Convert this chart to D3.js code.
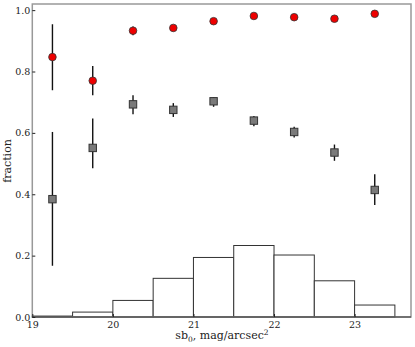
<!DOCTYPE html>
<html><head><meta charset="utf-8">
<script src="https://cdn.jsdelivr.net/npm/d3@7"></script>
<style>body{margin:0;background:#fff}svg{display:block}text{font-family:"DejaVu Serif",serif;fill:#222}</style>
</head><body><svg id="c" width="415" height="347"></svg>
<script>
const binCenters = [19.25,19.75,20.25,20.75,21.25,21.75,22.25,22.75,23.25];
const redVals  = [0.847,0.770,0.933,0.942,0.964,0.981,0.977,0.972,0.988];
const redLo    = [0.739,0.723,0.918,0.935,0.958,0.977,0.972,0.966,0.984];
const redHi    = [0.954,0.818,0.947,0.949,0.970,0.985,0.982,0.978,0.992];
const greyVals = [0.384,0.551,0.693,0.675,0.703,0.640,0.603,0.536,0.414];
const greyLo   = [0.167,0.485,0.661,0.652,0.685,0.622,0.585,0.509,0.365];
const greyHi   = [0.603,0.647,0.723,0.697,0.716,0.655,0.620,0.562,0.465];
const histEdges = [19,19.5,20,20.5,21,21.5,22,22.5,23,23.5];
const histVals  = [0.003,0.016,0.054,0.126,0.194,0.233,0.202,0.118,0.039];
const xTicks = [19,20,21,22,23];
const yTicks = [0,0.2,0.4,0.6,0.8,1.0];

const svg = d3.select("#c");
const L=32.3, R=411, T=4, B=317;
const x = d3.scaleLinear().domain([19,23.70]).range([L,R]);
const y = d3.scaleLinear().domain([0,1.02]).range([B,T]);

// histogram
svg.append("g").selectAll("rect").data(histVals).join("rect")
  .attr("x",(d,i)=>x(histEdges[i])).attr("width",(d,i)=>x(histEdges[i+1])-x(histEdges[i]))
  .attr("y",d=>y(d)).attr("height",d=>y(0)-y(d))
  .attr("fill","#fff").attr("stroke","#333").attr("stroke-width",1);

// frame
svg.append("rect").attr("x",L).attr("y",T).attr("width",R-L).attr("height",B-T)
  .attr("fill","none").attr("stroke","#999").attr("stroke-width",1.5);
svg.append("line").attr("x1",L).attr("x2",R).attr("y1",B).attr("y2",B).attr("stroke","#333").attr("stroke-width",1);

// axes
const xa = svg.append("g").attr("transform",`translate(0,${B})`)
  .call(d3.axisBottom(x).tickValues(xTicks).tickFormat(d3.format("d")).tickSize(-3).tickPadding(4));
const ya = svg.append("g").attr("transform",`translate(${L},0)`)
  .call(d3.axisLeft(y).tickValues(yTicks).tickFormat(d3.format(".1f")).tickSize(-3).tickPadding(2));
[xa,ya].forEach(a=>{a.select(".domain").remove();a.selectAll("line").attr("stroke","#222");a.selectAll("text").attr("font-size",9.5).attr("fill","#222").attr("font-family","DejaVu Serif");});

// error bars
const eb = svg.append("g").attr("stroke","#111").attr("stroke-width",1.4);
eb.selectAll("line.g").data(binCenters).join("line").attr("class","g")
  .attr("x1",d=>x(d)).attr("x2",d=>x(d)).attr("y1",(d,i)=>y(greyLo[i])).attr("y2",(d,i)=>y(greyHi[i]));
eb.selectAll("line.r").data(binCenters).join("line").attr("class","r")
  .attr("x1",d=>x(d)).attr("x2",d=>x(d)).attr("y1",(d,i)=>y(redLo[i])).attr("y2",(d,i)=>y(redHi[i]));

// markers
svg.append("g").selectAll("rect").data(binCenters).join("rect")
  .attr("x",d=>x(d)-3.7).attr("y",(d,i)=>y(greyVals[i])-3.7).attr("width",7.4).attr("height",7.4)
  .attr("fill","#7a7a7a").attr("stroke","#333").attr("stroke-width",1);
svg.append("g").selectAll("circle").data(binCenters).join("circle")
  .attr("cx",d=>x(d)).attr("cy",(d,i)=>y(redVals[i])).attr("r",3.8)
  .attr("fill","#ee0000").attr("stroke","#333").attr("stroke-width",0.8);

// labels
svg.append("text").attr("transform","translate(11,161) rotate(-90)").attr("text-anchor","middle")
  .attr("font-size",11).text("fraction");
const xl = svg.append("text").attr("x",222).attr("y",339).attr("text-anchor","middle").attr("font-size",11);
xl.append("tspan").text("sb");
xl.append("tspan").attr("font-size",7.5).attr("dy",2.5).text("0");
xl.append("tspan").attr("dy",-2.5).text(", mag/arcsec");
xl.append("tspan").attr("font-size",7.5).attr("dy",-4.5).text("2");
</script></body></html>
